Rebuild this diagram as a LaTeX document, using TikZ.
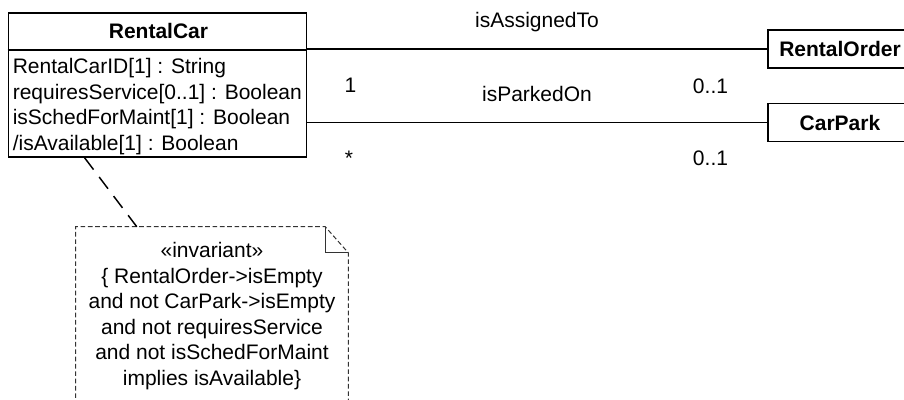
\documentclass[tikz,border=0pt]{standalone}
\usepackage{fontspec}
\setmainfont{Liberation Sans}
\usetikzlibrary{calc}
\begin{document}
\begin{tikzpicture}[x=0.75pt,y=-0.75pt,
  font=\fontsize{15.75}{19.1}\selectfont,
  classbox/.style={draw=black, line width=1.3pt, inner sep=0pt},
  assoc/.style={draw=black, line width=1.1pt},
  lbl/.style={anchor=base, inner sep=0pt},
  attr/.style={anchor=base west, inner sep=0pt},
  notedash/.style={draw=black!80, line width=0.75pt, dash pattern=on 3.5pt off 2pt},
  anchorline/.style={draw=black, line width=1.1pt, dash pattern=on 11pt off 7pt}]
\useasboundingbox (0,0) rectangle (904,400);
\fill[white] (0,0) rectangle (904,400);

% RentalCar class
\node[classbox, minimum width=223.5pt, minimum height=108pt] (rc) at (157.5,85) {};
\draw[line width=1.3pt] ($(rc.north west)+(0,-28.5pt)$) coordinate (sepL) -- ($(rc.north east)+(0,-28.5pt)$) coordinate (sepR);
\node[lbl, font=\fontsize{15.75}{19.1}\selectfont\bfseries] (rcname) at (158.5,38.5) {RentalCar};
\node[attr] (a1) at (12.5,73.5) {RentalCarID[1] : String};
\node[attr] (a2) at (12.5,99) {requiresService[0..1] : Boolean};
\node[attr] (a3) at (12.5,124.5) {isSchedForMaint[1] : Boolean};
\node[attr] (a4) at (12.5,150) {/isAvailable[1] : Boolean};

% Other classes
\node[classbox, minimum width=108pt, minimum height=28.5pt, font=\fontsize{15.75}{19.1}\selectfont\bfseries] (ro) at (840,49) {RentalOrder};
\node[classbox, minimum width=108pt, minimum height=28.5pt, font=\fontsize{15.75}{19.1}\selectfont\bfseries] (cp) at (840,122.5) {CarPark};

% Associations
\draw[assoc] (rc.east |- ro.west) -- (ro.west);
\draw[assoc] (rc.east |- cp.west) -- (cp.west);

% Association labels
\node[lbl] (l1) at (537,27.7) {isAssignedTo};
\node[lbl] (l2) at (537,101.7) {isParkedOn};
\node[lbl] (m1) at (350.5,92) {1};
\node[lbl] (m2) at (710.5,93) {0..1};
\node[lbl] (m3) at (349,165) {*};
\node[lbl] (m4) at (710.5,165.5) {0..1};

% Note
\node[inner sep=0pt, minimum width=204pt, minimum height=133.5pt, align=center] (note) at (212,316)
  {«invariant»\\{\{} RentalOrder->isEmpty\\and not CarPark->isEmpty\\and not requiresService\\and not isSchedForMaint\\implies isAvailable\}};
\draw[notedash] (note.south west) -- (note.north west) -- ($(note.north east)+(-17.25pt,0)$) coordinate (foldA)
  -- ($(note.north east)+(0,-19.5pt)$) coordinate (foldB) -- (note.south east);
\draw[draw=black!80, line width=0.75pt] (foldA) -- (foldA |- foldB) -- (foldB);

% Note anchor
\draw[anchorline] ($(rc.south west)!0.257!(rc.south east)$) -- ($(note.north west)!0.224!(note.north east)$);
\end{tikzpicture}
\end{document}
